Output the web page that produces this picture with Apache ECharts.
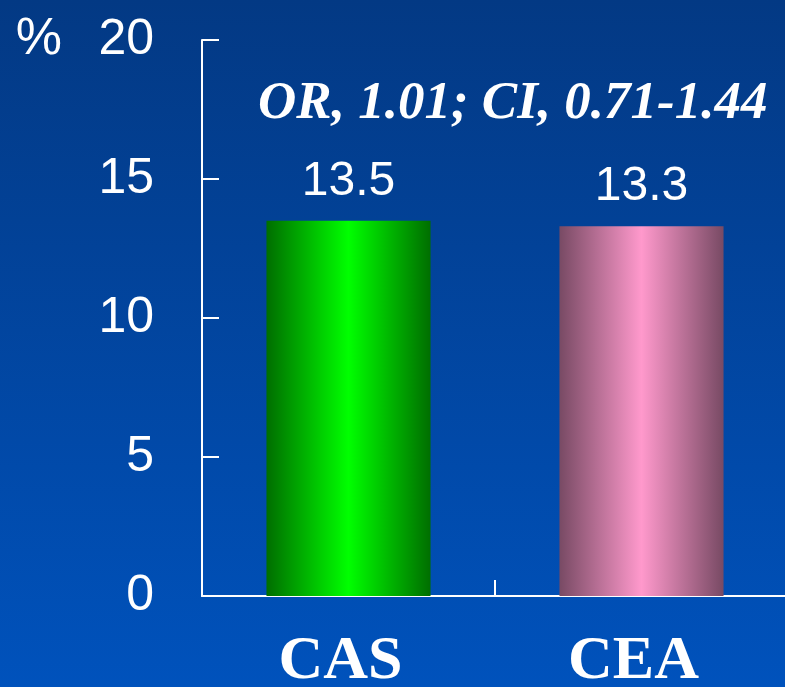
<!DOCTYPE html>
<html>
<head>
<meta charset="utf-8">
<style>
  html, body { margin: 0; padding: 0; }
  #chart { width: 785px; height: 687px; }
</style>
<script src="https://cdn.jsdelivr.net/npm/echarts@6/dist/echarts.min.js"></script>
</head>
<body>
<div id="chart"></div>
<script>
// Event rates (%) by treatment group
const categories = ['CAS', 'CEA'];
const rates = [13.5, 13.3];
const statLine = 'OR, 1.01; CI, 0.71-1.44';
const yTicks = { min: 0, max: 20, interval: 5 };

// Cylinder-like shading for each bar: [edge, centre]
const barShades = [
  ['#006e00', '#00ff00'],
  ['#784a64', '#ff99cc']
];

function shade(pair) {
  return new echarts.graphic.LinearGradient(0, 0, 1, 0, [
    { offset: 0, color: pair[0] },
    { offset: 0.5, color: pair[1] },
    { offset: 1, color: pair[0] }
  ]);
}

const chart = echarts.init(document.getElementById('chart'));
chart.setOption({
  backgroundColor: new echarts.graphic.LinearGradient(0, 0, 0, 1, [
    { offset: 0, color: '#033984' },
    { offset: 1, color: '#0052bc' }
  ]),
  animation: false,
  title: {
    text: statLine,
    left: 253,
    top: 73,
    textStyle: {
      color: '#ffffff',
      fontFamily: 'Liberation Serif',
      fontStyle: 'italic',
      fontWeight: 'bold',
      fontSize: 53
    }
  },
  grid: { left: 202, right: -3, top: 40, bottom: 91, outerBoundsMode: 'none', containLabel: false },
  xAxis: {
    type: 'category',
    data: categories,
    axisLine: { lineStyle: { color: '#ffffff', width: 2 } },
    axisTick: { show: true, interval: 0, inside: true, length: 16, lineStyle: { color: '#ffffff', width: 2 } },
    axisLabel: {
      color: '#ffffff',
      fontFamily: 'Liberation Serif',
      fontWeight: 'bold',
      fontSize: 62,
      margin: 35,
      padding: [0, 16, 0, 0]
    }
  },
  yAxis: {
    type: 'value',
    min: yTicks.min,
    max: yTicks.max,
    interval: yTicks.interval,
    name: '%',
    nameLocation: 'end',
    nameGap: 0,
    nameTextStyle: {
      color: '#ffffff',
      fontFamily: 'Liberation Sans',
      fontSize: 52,
      align: 'right',
      verticalAlign: 'middle',
      padding: [0, 140, 0, 0]
    },
    axisLine: { show: true, lineStyle: { color: '#ffffff', width: 2 } },
    axisTick: { show: true, inside: true, length: 17, lineStyle: { color: '#ffffff', width: 2 } },
    splitLine: { show: false },
    axisLabel: {
      color: '#ffffff',
      fontFamily: 'Liberation Sans',
      fontSize: 50,
      margin: 48
    }
  },
  series: [{
    type: 'bar',
    barWidth: '56%',
    data: rates.map((v, i) => ({ value: v, itemStyle: { color: shade(barShades[i]) } })),
    label: {
      show: true,
      position: 'top',
      distance: 15,
      color: '#ffffff',
      fontFamily: 'Liberation Sans',
      fontSize: 48
    }
  }]
});
</script>
</body>
</html>
